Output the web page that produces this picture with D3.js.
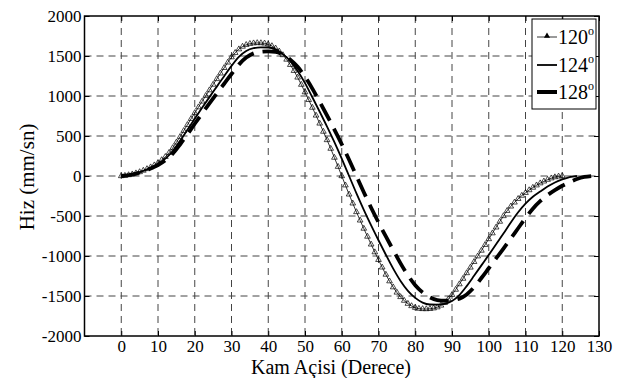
<!DOCTYPE html>
<html>
<head>
<meta charset="utf-8">
<script src="https://cdn.jsdelivr.net/npm/d3@7"></script>
<style>
  body { margin: 0; background: #fff; }
  svg { display: block; }
  svg text { font-family: "Liberation Serif", "Times New Roman", serif; }
</style>
</head>
<body>
<div id="chart"></div>
<script>
// 120 deg curve, one value per degree 0..120 (triangle markers)
const deg120 = d3.range(0, 121);
const v120 = [0, 4, 12, 22, 35, 50, 68, 88, 110, 135,
  165, 200, 240, 290, 350, 420, 490, 565, 640, 715,
  788, 860, 932, 1003, 1073, 1143, 1213, 1283, 1352, 1420,
  1485, 1540, 1585, 1618, 1640, 1653, 1660, 1663, 1662, 1658,
  1646, 1625, 1596, 1558, 1512, 1456, 1390, 1315, 1232, 1142,
  1048, 952, 855, 757, 657, 555, 450, 342, 230, 116,
  0, -116, -230, -342, -450, -555, -657, -757, -855, -952,
  -1048, -1142, -1232, -1315, -1390, -1456, -1512, -1558, -1596, -1625,
  -1646, -1658, -1662, -1663, -1660, -1653, -1640, -1618, -1585, -1540,
  -1485, -1420, -1352, -1283, -1213, -1143, -1073, -1003, -932, -860,
  -788, -715, -642, -570, -500, -435, -380, -330, -285, -245,
  -210, -176, -145, -116, -90, -67, -46, -28, -14, -5, 0];

// 124 deg curve, every 2 degrees 0..124
const deg124 = d3.range(0, 125, 2);
const v124 = [0, 11, 32, 63, 101, 150, 217, 313, 439, 577,
  716, 852, 986, 1117, 1248, 1376, 1489, 1563, 1598, 1608,
  1606, 1582, 1523, 1437, 1312, 1161, 984, 803, 617, 422,
  216, 0, -217, -422, -617, -803, -984, -1158, -1312, -1435,
  -1523, -1582, -1606, -1608, -1598, -1563, -1489, -1376, -1248, -1117,
  -986, -852, -720, -580, -453, -346, -260, -194, -132, -82,
  -43, -13, 0];

// 128 deg curve, every 2 degrees 0..128
const deg128 = d3.range(0, 129, 2);
const v128 = [0, 10, 30, 57, 93, 137, 197, 279, 394, 521,
  653, 781, 907, 1031, 1153, 1275, 1392, 1480, 1533, 1553,
  1559, 1551, 1517, 1455, 1365, 1241, 1092, 926, 756, 580,
  397, 203, 0, -203, -397, -580, -756, -926, -1092, -1241,
  -1365, -1455, -1517, -1551, -1559, -1553, -1533, -1480, -1392, -1275,
  -1153, -1031, -907, -781, -653, -526, -408, -315, -239, -177,
  -122, -76, -38, -12, 0];

const xTicks = d3.range(0, 131, 10);
const yTicks = d3.range(-2000, 2001, 500);
const legendLabels = ['120', '124', '128'];

const width = 625, height = 378;
const svg = d3.select('#chart').append('svg')
  .attr('width', width)
  .attr('height', height);

const x = d3.scaleLinear().domain([-10, 130]).range([84.5, 599]);
const y = d3.scaleLinear().domain([-2000, 2000]).range([336, 16]);

// grid
const grid = svg.append('g')
  .attr('stroke', '#444')
  .attr('stroke-width', 1)
  .attr('stroke-dasharray', '7,5');
grid.selectAll('.vg').data(xTicks.filter(d => d < 130))
  .enter().append('line')
  .attr('x1', d => x(d)).attr('x2', d => x(d))
  .attr('y1', y(2000)).attr('y2', y(-2000));
grid.selectAll('.hg').data(yTicks.filter(d => d > -2000 && d < 2000))
  .enter().append('line')
  .attr('x1', x(-10)).attr('x2', x(130))
  .attr('y1', d => y(d)).attr('y2', d => y(d));

// axes
const axB = svg.append('g')
  .attr('transform', `translate(0,${y(-2000)})`)
  .call(d3.axisBottom(x).tickValues(xTicks).tickFormat(d => String(d))
    .tickSize(-5).tickSizeOuter(0).tickPadding(4));
const axL = svg.append('g')
  .attr('transform', `translate(${x(-10)},0)`)
  .call(d3.axisLeft(y).tickValues(yTicks).tickFormat(d => String(d))
    .tickSize(-5).tickSizeOuter(0).tickPadding(3));
svg.append('g')
  .attr('transform', `translate(0,${y(2000)})`)
  .call(d3.axisTop(x).tickValues(xTicks).tickSize(-5).tickSizeOuter(0).tickFormat(''));
svg.append('g')
  .attr('transform', `translate(${x(130)},0)`)
  .call(d3.axisRight(y).tickValues(yTicks).tickSize(-5).tickSizeOuter(0).tickFormat(''));

svg.selectAll('.tick line').attr('stroke', '#000').attr('stroke-width', 1);
svg.selectAll('.domain').remove();
[axB, axL].forEach(a => {
  a.selectAll('text')
    .style('font-family', '"Liberation Serif", serif')
    .style('font-size', '17px')
    .attr('fill', '#000');
});

// curves
const line = d3.line()
  .x(d => x(d[0]))
  .y(d => y(d[1]))
  .curve(d3.curveMonotoneX);

const d128 = deg128.map((d, i) => [d, v128[i]]);
const d124 = deg124.map((d, i) => [d, v124[i]]);
const d120 = deg120.map((d, i) => [d, v120[i]]);

svg.append('path').datum(d128)
  .attr('fill', 'none').attr('stroke', '#000')
  .attr('stroke-width', 3.8)
  .attr('stroke-dasharray', '19,9')
  .attr('d', line);
svg.append('path').datum(d124)
  .attr('fill', 'none').attr('stroke', '#000')
  .attr('stroke-width', 1.8)
  .attr('d', line);
svg.append('path').datum(d120)
  .attr('fill', 'none').attr('stroke', '#000')
  .attr('stroke-width', 0.8)
  .attr('d', line);

const tri = d3.symbol().type(d3.symbolTriangle).size(14);
svg.append('g').selectAll('path')
  .data(d120).enter().append('path')
  .attr('transform', d => `translate(${x(d[0])},${y(d[1])})`)
  .attr('d', tri)
  .attr('fill', 'none')
  .attr('stroke', '#000')
  .attr('stroke-width', 0.7);

// frame
svg.append('rect')
  .attr('x', x(-10)).attr('y', y(2000))
  .attr('width', x(130) - x(-10)).attr('height', y(-2000) - y(2000))
  .attr('fill', 'none').attr('stroke', '#000').attr('stroke-width', 1.5);

// axis titles
svg.append('text')
  .attr('x', 331).attr('y', 374)
  .attr('text-anchor', 'middle')
  .attr('font-size', 20)
  .text('Kam Açisi (Derece)');
svg.append('text')
  .attr('transform', 'translate(34,177) rotate(-90)')
  .attr('text-anchor', 'middle')
  .attr('font-size', 21)
  .text('Hiz (mm/sn)');

// legend
const lg = svg.append('g');
lg.append('rect')
  .attr('x', 532).attr('y', 19).attr('width', 64).attr('height', 90)
  .attr('fill', '#fff').attr('stroke', '#000').attr('stroke-width', 1);
const rowY = [37, 65, 92];
const rowW = [0.8, 1.8, 4];
legendLabels.forEach((lab, i) => {
  lg.append('line')
    .attr('x1', 537).attr('x2', 557)
    .attr('y1', rowY[i]).attr('y2', rowY[i])
    .attr('stroke', '#000').attr('stroke-width', rowW[i]);
  const t = lg.append('text')
    .attr('x', 558).attr('y', rowY[i] + 7)
    .attr('font-size', 20)
    .text(lab);
  t.append('tspan').attr('dy', -9).attr('font-size', 12).text('o');
});
lg.append('path')
  .attr('transform', `translate(547,${rowY[0] - 1})`)
  .attr('d', d3.symbol().type(d3.symbolTriangle).size(16))
  .attr('fill', '#000');
</script>
</body>
</html>
